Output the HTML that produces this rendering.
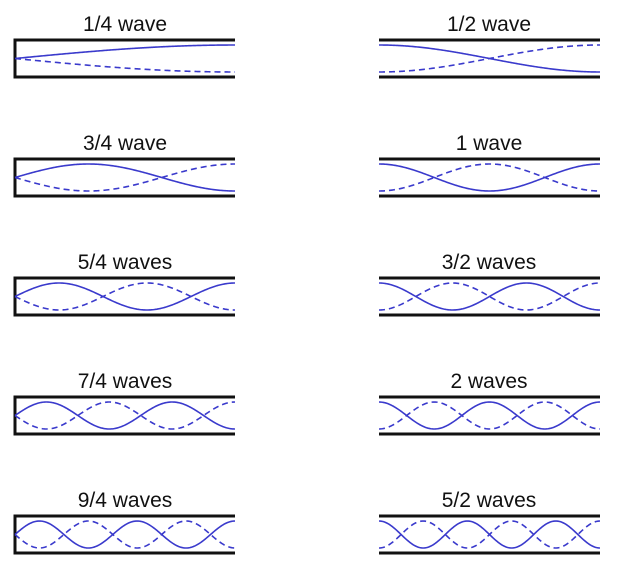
<!DOCTYPE html>
<html><head><meta charset="utf-8"><style>
body{margin:0;background:#fff;}
svg{display:block;}
text{font-family:"Liberation Sans",sans-serif;font-size:21px;fill:#111;text-anchor:middle;}
</style></head><body>
<svg id="s" width="624" height="568" xmlns="http://www.w3.org/2000/svg"></svg>
<script>
var s=document.getElementById('s');var h='';
var tops=[40,159,278,397,516];
var L=['1/4 wave','3/4 wave','5/4 waves','7/4 waves','9/4 waves'];
var R=['1/2 wave','1 wave','3/2 waves','2 waves','5/2 waves'];
function path(x0,x1,c,a,f){var d='';for(var i=0;i<=200;i++){var t=i/200;var x=x0+(x1-x0)*t;var y=c-a*f(t);d+=(i?'L':'M')+x.toFixed(2)+' '+y.toFixed(2);}return d;}
for(var r=0;r<5;r++){
 var t=tops[r],b=t+37,c=(t+b)/2,a=13.5;
 h+='<text x="125" y="'+(t-9)+'">'+L[r]+'</text>';
 h+='<text x="489" y="'+(t-9)+'">'+R[r]+'</text>';
 h+='<path d="M235 '+t+'H15V'+b+'H235" fill="none" stroke="#111" stroke-width="3"/>';
 h+='<path d="M379 '+t+'H600M379 '+b+'H600" fill="none" stroke="#111" stroke-width="3"/>';
 var k=2*r+1;
 (function(k){
 var f=function(u){return Math.sin(Math.PI/2*k*u);};
 var g=function(u){return -Math.sin(Math.PI/2*k*u);};
 h+='<path d="'+path(15,235,c,a,f)+'" fill="none" stroke="#3a3acc" stroke-width="1.6"/>';
 h+='<path d="'+path(15,235,c,a,g)+'" fill="none" stroke="#3a3acc" stroke-width="1.6" stroke-dasharray="6,4"/>';
 })(k);
 (function(n){
 var f=function(u){return Math.cos(Math.PI*n*u);};
 var g=function(u){return -Math.cos(Math.PI*n*u);};
 h+='<path d="'+path(379,600,c,a,f)+'" fill="none" stroke="#3a3acc" stroke-width="1.6"/>';
 h+='<path d="'+path(379,600,c,a,g)+'" fill="none" stroke="#3a3acc" stroke-width="1.6" stroke-dasharray="6,4"/>';
 })(r+1);
}
s.innerHTML=h;
</script>
</body></html>
